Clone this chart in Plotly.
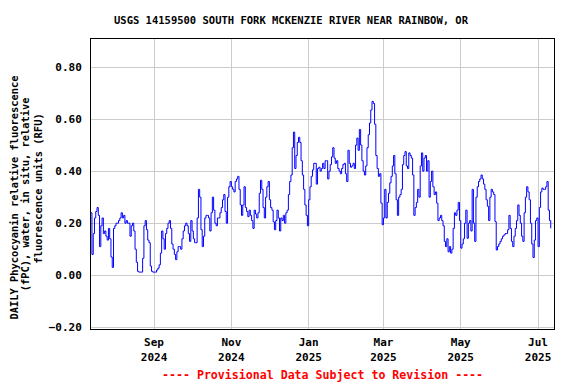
import pandas as pd
import plotly.graph_objects as go

start_date = "2024-07-13"
jul24 = [0.24, 0.08, 0.16, 0.22, 0.245, 0.26, 0.23, 0.11, 0.19, 0.22, 0.16, 0.17, 0.15, 0.135,
         0.18, 0.14, 0.07, 0.03, 0.18]
aug24 = [0.19, 0.20, 0.20, 0.21, 0.22, 0.24, 0.22, 0.23, 0.20, 0.21, 0.20, 0.20, 0.15, 0.19, 0.20,
         0.17, 0.10, 0.05, 0.015, 0.012, 0.012, 0.012, 0.065, 0.19, 0.21, 0.175, 0.135, 0.125,
         0.035, 0.015, 0.012]
sep24 = [0.012, 0.012, 0.02, 0.027, 0.04, 0.085, 0.17, 0.14, 0.10, 0.16, 0.18, 0.20, 0.21, 0.18,
         0.12, 0.10, 0.08, 0.06, 0.09, 0.11, 0.11, 0.10, 0.14, 0.17, 0.19, 0.20, 0.19, 0.16, 0.13,
         0.21]
oct24 = [0.17, 0.14, 0.125, 0.125, 0.22, 0.33, 0.30, 0.175, 0.11, 0.15, 0.22, 0.23, 0.23, 0.22,
         0.17, 0.24, 0.30, 0.25, 0.20, 0.19, 0.22, 0.22, 0.24, 0.26, 0.29, 0.31, 0.245, 0.20, 0.30,
         0.34, 0.36]
nov24 = [0.34, 0.33, 0.32, 0.36, 0.37, 0.38, 0.33, 0.27, 0.23, 0.27, 0.34, 0.26, 0.245, 0.225,
         0.25, 0.23, 0.21, 0.18, 0.25, 0.235, 0.22, 0.24, 0.315, 0.365, 0.33, 0.26, 0.22, 0.30,
         0.34, 0.36]
dec24 = [0.29, 0.26, 0.25, 0.205, 0.175, 0.21, 0.25, 0.22, 0.17, 0.22, 0.21, 0.23, 0.20, 0.24,
         0.25, 0.31, 0.36, 0.385, 0.49, 0.55, 0.41, 0.46, 0.51, 0.53, 0.51, 0.44, 0.385, 0.33,
         0.27, 0.23, 0.19]
jan25 = [0.29, 0.34, 0.38, 0.405, 0.43, 0.43, 0.35, 0.41, 0.415, 0.40, 0.41, 0.43, 0.41, 0.44,
         0.44, 0.37, 0.40, 0.425, 0.455, 0.49, 0.45, 0.43, 0.44, 0.41, 0.40, 0.39, 0.41, 0.425,
         0.43, 0.39, 0.36]
feb25 = [0.48, 0.43, 0.415, 0.42, 0.43, 0.41, 0.50, 0.527, 0.48, 0.56, 0.50, 0.44, 0.40, 0.385,
         0.42, 0.49, 0.54, 0.585, 0.635, 0.668, 0.66, 0.58, 0.46, 0.41, 0.38, 0.39, 0.277, 0.194]
mar25 = [0.22, 0.33, 0.22, 0.28, 0.315, 0.355, 0.38, 0.42, 0.46, 0.39, 0.29, 0.23, 0.30, 0.31,
         0.33, 0.425, 0.46, 0.475, 0.42, 0.41, 0.47, 0.46, 0.45, 0.385, 0.23, 0.26, 0.28, 0.33,
         0.30, 0.42, 0.47]
apr25 = [0.40, 0.45, 0.46, 0.40, 0.44, 0.30, 0.36, 0.40, 0.34, 0.31, 0.32, 0.277, 0.21, 0.22,
         0.23, 0.21, 0.19, 0.13, 0.11, 0.14, 0.09, 0.11, 0.085, 0.10, 0.18, 0.24, 0.23, 0.25,
         0.28, 0.21]
may25 = [0.104, 0.12, 0.14, 0.20, 0.25, 0.142, 0.20, 0.21, 0.17, 0.33, 0.20, 0.13, 0.30, 0.34,
         0.36, 0.37, 0.385, 0.37, 0.35, 0.33, 0.29, 0.265, 0.21, 0.30, 0.33, 0.32, 0.31, 0.206,
         0.097, 0.11, 0.12]
jun25 = [0.13, 0.14, 0.15, 0.155, 0.16, 0.16, 0.175, 0.23, 0.18, 0.13, 0.11, 0.15, 0.18, 0.21,
         0.27, 0.23, 0.20, 0.15, 0.13, 0.24, 0.30, 0.34, 0.32, 0.29, 0.20, 0.12, 0.068, 0.135,
         0.21, 0.22]
jul25 = [0.11, 0.26, 0.32, 0.335, 0.33, 0.33, 0.34, 0.36, 0.25, 0.21, 0.18]

values = jul24 + aug24 + sep24 + oct24 + nov24 + dec24 + jan25 + feb25 + mar25 + apr25 + may25 + jun25 + jul25
dates = pd.date_range(start_date, periods=len(values), freq="D")

tick_dates = ["2024-09-01", "2024-11-01", "2025-01-01", "2025-03-01", "2025-05-01", "2025-07-01"]
tick_text = ["Sep<br>2024", "Nov<br>2024", "Jan<br>2025", "Mar<br>2025", "May<br>2025", "Jul<br>2025"]
y_ticks = [-0.2, 0.0, 0.2, 0.4, 0.6, 0.8]
y_title_lines = ["DAILY Phycocyanin relative fluorescence",
                 "(fPC), water, in situ, relative",
                 "fluorescence units (RFU)"]

FONT = "DejaVu Sans Mono"
W, H = 568, 376
ML, MR, MT, MB = 83, 22, 31, 55
PW, PH = W - ML - MR, H - MT - MB

fig = go.Figure()
fig.add_trace(go.Scatter(x=dates, y=values, mode="lines", line=dict(color="#0000ff", width=1, shape="hv"),
                         showlegend=False, hoverinfo="skip"))

fig.update_layout(
    width=W, height=H,
    margin=dict(l=ML, r=MR, t=MT, b=MB, autoexpand=False),
    paper_bgcolor="white", plot_bgcolor="white",
    font=dict(family=FONT, size=11, color="black", weight="bold"),
    title=dict(text="USGS 14159500 SOUTH FORK MCKENZIE RIVER NEAR RAINBOW, OR",
               x=283 / W, xanchor="center", y=1 - 12 / H, yanchor="middle",
               font=dict(family=FONT, size=10.5, color="black", weight="bold")),
    xaxis=dict(range=["2024-07-13 06:00", "2025-07-13 14:00"], tickvals=tick_dates, ticktext=tick_text,
               showgrid=True, gridcolor="#cccccc", gridwidth=1, showline=True, linecolor="black",
               linewidth=1, mirror=True, ticks="outside", ticklen=3, tickcolor="rgba(0,0,0,0)",
               zeroline=False, tickfont=dict(size=11), automargin=False),
    yaxis=dict(range=[-0.2066, 0.9077], tickvals=y_ticks, tickformat=".2f",
               showgrid=True, gridcolor="#cccccc", gridwidth=1, showline=True, linecolor="black",
               linewidth=1, mirror=True, ticks="outside", ticklen=6, tickcolor="rgba(0,0,0,0)",
               zeroline=False, tickfont=dict(size=11), automargin=False),
)

# y-axis title lines (window x centres ~13, 25, 37.5; body offset 8px)
for txt, cx, cy in zip(y_title_lines, [5.5, 17.3, 29.5], [190, 186, 181]):
    fig.add_annotation(text=txt, xref="paper", yref="paper",
                       x=(cx - ML) / PW, y=(MT + PH - cy) / PH, xanchor="center", yanchor="middle",
                       textangle=-90, showarrow=False, borderpad=0,
                       font=dict(family=FONT, size=10.4, color="black", weight="bold"))

fig.add_annotation(text="---- Provisional Data Subject to Revision ----", xref="paper", yref="paper",
                   x=0.5, y=-0.158, xanchor="center", yanchor="middle", showarrow=False,
                   font=dict(family=FONT, size=11.6, color="red", weight="bold"))

fig.write_html("out.html")
